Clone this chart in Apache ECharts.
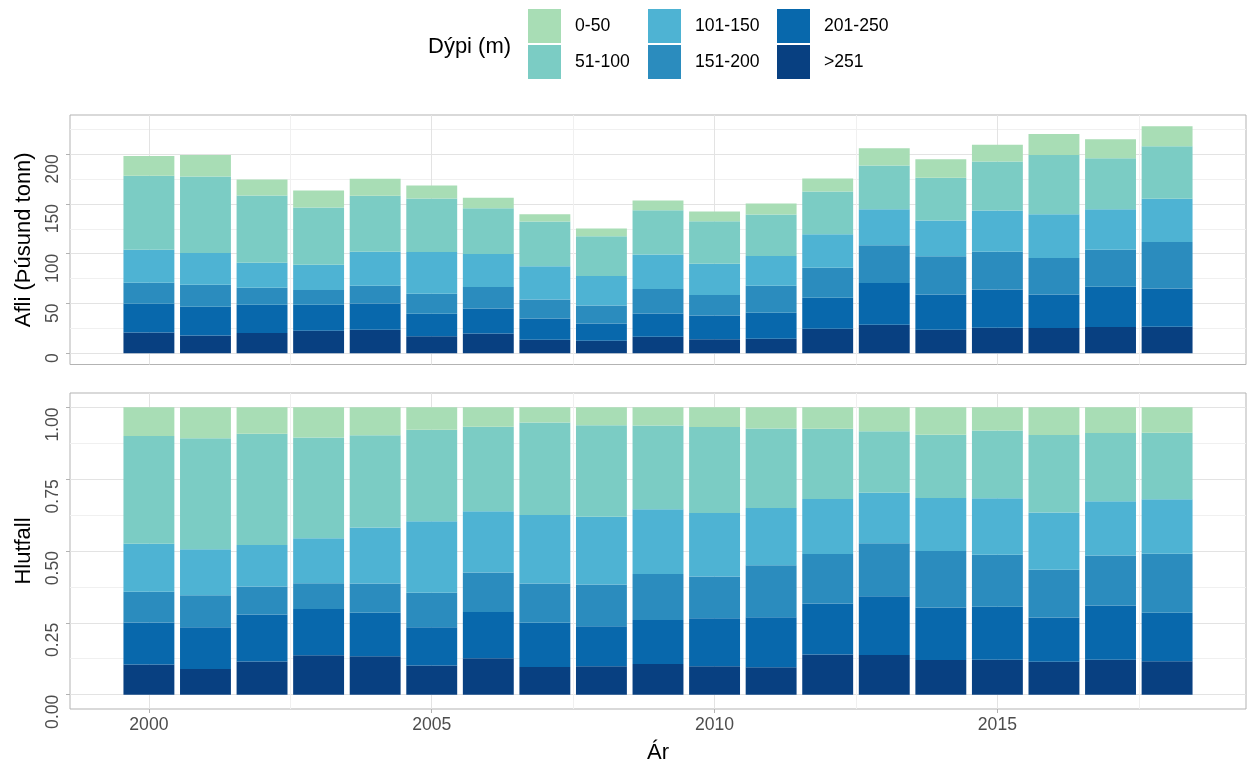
<!DOCTYPE html>
<html>
<head>
<meta charset="utf-8">
<script src="https://cdn.jsdelivr.net/npm/echarts@6/dist/echarts.min.js"></script>
<style>
html,body{margin:0;padding:0;background:#fff;}
#chart{width:1247px;height:767px;}
</style>
</head>
<body>
<div id="chart"></div>
<script>
// ---- data (thousand tonnes by depth band) ----
const years = [2000,2001,2002,2003,2004,2005,2006,2007,2008,2009,2010,2011,2012,2013,2014,2015,2016,2017,2018];
const depth0_50    = [19.8,21.5,16.1,17.1,17.1,13.1,10.5, 7.3, 7.8, 9.7, 9.7,11.1,13.1,17.2,18.5,16.9,21.2,19.1,20.1];
const depth51_100  = [74.3,76.9,67.6,57.5,56.2,53.7,46.0,45.1,39.9,44.7,42.7,41.6,43.0,44.0,43.0,49.4,59.5,51.1,52.8];
const depth101_150 = [33.2,31.9,25.2,25.5,34.3,42.0,33.3,33.3,29.6,34.6,31.5,30.0,33.6,36.3,36.0,41.3,43.9,40.7,43.3];
const depth151_200 = [21.2,22.2,17.1,14.8,17.8,20.2,21.5,19.1,18.2,24.6,20.6,27.2,30.3,37.9,38.3,38.0,36.7,37.3,46.8];
const depth201_250 = [28.9,29.0,28.5,26.2,26.5,22.5,25.2,21.5,17.4,23.5,23.8,26.2,31.2,42.1,35.6,38.6,33.9,40.6,38.6];
const depthGt251   = [20.8,17.7,20.2,22.5,23.5,17.1,19.8,13.4,12.4,16.4,14.1,14.4,24.5,28.5,23.5,25.5,25.2,26.2,26.5];

const bandNames = ['0-50','51-100','101-150','151-200','201-250','>251'];
const bandColors = ['#a8ddb5','#7bccc4','#4eb3d3','#2b8cbe','#0868ac','#084081'];

// tick labels
const xMajorTicks = [2000,2005,2010,2015];
const xMinorTicks = [2002.5,2007.5,2012.5,2017.5];
const yAfliTicks = [0,50,100,150,200];
const yAfliMinor = [25,75,125,175,225];
const yHlutTicks = [0,0.25,0.5,0.75,1];
const yHlutMinor = [0.125,0.375,0.625,0.875];

// ---- build ----
const bandData = [depth0_50, depth51_100, depth101_150, depth151_200, depth201_250, depthGt251];
const totals = years.map((y,i)=>bandData.reduce((s,a)=>s+a[i],0));
const maxTotal = Math.max(...totals);

const FONT = "'Liberation Sans', Arial, sans-serif";
const panelLeft = 70, panelWidth = 1176;
const topPanel = {top:115, height:249.5};
const botPanel = {top:393, height:316};

const barLo = years[0]-0.45, barHi = years[years.length-1]+0.45;
const xPad = 0.05*(barHi-barLo);
const xMin = barLo - xPad, xMax = barHi + xPad;
const pxPerYear = panelWidth/(xMax-xMin);
const barGridLeft = panelLeft + (years[0]-0.5-xMin)*pxPerYear;
const barGridWidth = years.length*pxPerYear;

const yA = [-0.05*maxTotal, 1.05*maxTotal];
const yH = [-0.05, 1.05];

const grids = [
  {left:panelLeft, top:topPanel.top, width:panelWidth, height:topPanel.height, show:true, borderColor:'#b3b3b3', borderWidth:1},
  {left:barGridLeft, top:topPanel.top, width:barGridWidth, height:topPanel.height},
  {left:panelLeft, top:botPanel.top, width:panelWidth, height:botPanel.height, show:true, borderColor:'#b3b3b3', borderWidth:1},
  {left:barGridLeft, top:botPanel.top, width:barGridWidth, height:botPanel.height}
];

function xValAxis(gridIndex, ticks, major, withLabels){
  return {
    type:'value', gridIndex, min:xMin, max:xMax,
    axisLine:{show:false, onZero:false},
    axisTick:{show:withLabels, customValues:ticks, length:4, lineStyle:{color:'#b3b3b3', width:1}},
    axisLabel:{show:withLabels, customValues:ticks, formatter:v=>String(v), color:'#4d4d4d', fontSize:17.6, margin:7, fontFamily:FONT},
    splitLine:{show:true, lineStyle:{color: major ? '#e3e3e3' : '#f0f0f0', width:1}},
    name: withLabels ? 'Ár' : '', nameLocation:'middle', nameGap:33,
    nameTextStyle:{fontSize:22, color:'#000', fontFamily:FONT}
  };
}
function xCatAxis(gridIndex){
  return {type:'category', gridIndex, data:years.map(String), boundaryGap:true,
    axisLine:{show:false}, axisTick:{show:false}, axisLabel:{show:false}, splitLine:{show:false}};
}
function yValAxis(gridIndex, range, ticks, major, name, fmt){
  return {
    type:'value', gridIndex, min:range[0], max:range[1], position:'left',
    axisLine:{show:false, onZero:false},
    axisTick:{show:major, customValues:ticks, length:4, lineStyle:{color:'#b3b3b3', width:1}},
    axisLabel:{show:major, customValues:ticks, formatter:fmt, rotate:90, align:'right', verticalAlign:'bottom',
      margin:8, color:'#4d4d4d', fontSize:17.6, fontFamily:FONT},
    splitLine:{show:true, lineStyle:{color: major ? '#e3e3e3' : '#f0f0f0', width:1}},
    name: major ? name : '', nameLocation:'middle', nameGap:35,
    nameTextStyle:{fontSize:22, color:'#000', fontFamily:FONT}
  };
}
function yHidden(gridIndex, range){
  return {type:'value', gridIndex, min:range[0], max:range[1],
    axisLine:{show:false}, axisTick:{show:false}, axisLabel:{show:false}, splitLine:{show:false}};
}

const xAxes = [
  xValAxis(0, xMajorTicks, true, false),
  xValAxis(0, xMinorTicks, false, false),
  xCatAxis(1),
  xValAxis(2, xMajorTicks, true, true),
  xValAxis(2, xMinorTicks, false, false),
  xCatAxis(3)
];
const yAxes = [
  yValAxis(0, yA, yAfliTicks, true, 'Afli (Þúsund tonn)', v=>String(v)),
  yValAxis(0, yA, yAfliMinor, false, '', v=>String(v)),
  yHidden(1, yA),
  yValAxis(2, yH, yHlutTicks, true, 'Hlutfall', v=>v.toFixed(2)),
  yValAxis(2, yH, yHlutMinor, false, '', v=>v.toFixed(2)),
  yHidden(3, yH)
];

const series = [];
// stack from bottom (>251) to top (0-50)
for (let k = bandNames.length-1; k >= 0; k--) {
  series.push({
    name: bandNames[k], type:'bar', xAxisIndex:2, yAxisIndex:2, stack:'afli',
    barWidth:'90%', itemStyle:{color:bandColors[k]}, data: bandData[k].slice()
  });
}
for (let k = bandNames.length-1; k >= 0; k--) {
  series.push({
    name: bandNames[k], type:'bar', xAxisIndex:5, yAxisIndex:5, stack:'hlut',
    barWidth:'90%', itemStyle:{color:bandColors[k]}, data: bandData[k].map((v,i)=>v/totals[i])
  });
}

function legendCol(names, left){
  return {orient:'vertical', left, top:9, padding:0, itemWidth:33, itemHeight:34, itemGap:2,
    icon:'rect', selectedMode:false, data:names,
    textStyle:{fontSize:17.6, color:'#000', fontFamily:FONT, padding:[0,0,0,9]}};
}

const option = {
  animation:false,
  backgroundColor:'#ffffff',
  textStyle:{fontFamily:FONT},
  title:{text:'Dýpi (m)', left:428, top:36, padding:0,
    textStyle:{fontSize:22, fontWeight:'normal', color:'#000', fontFamily:FONT}},
  legend:[
    legendCol(['0-50','51-100'], 528),
    legendCol(['101-150','151-200'], 648),
    legendCol(['201-250','>251'], 777)
  ],
  grid:grids,
  xAxis:xAxes,
  yAxis:yAxes,
  series
};
const chart = echarts.init(document.getElementById('chart'), null, {renderer:'canvas'});
chart.setOption(option);
</script>
</body>
</html>
